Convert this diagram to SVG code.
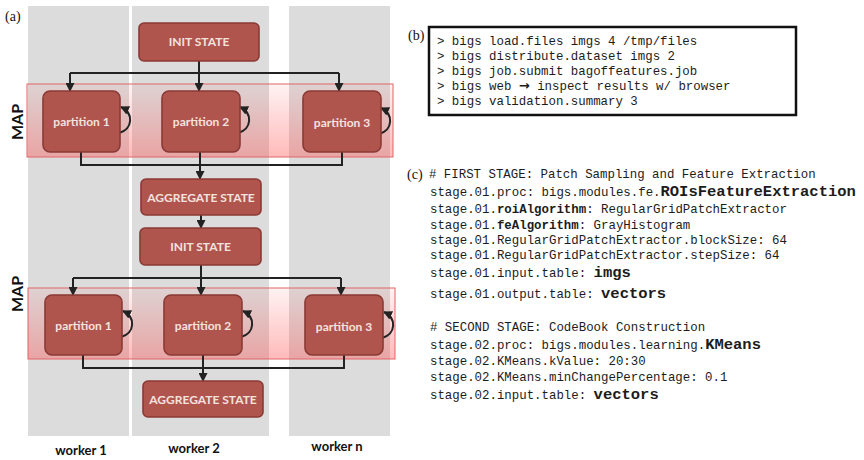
<svg xmlns="http://www.w3.org/2000/svg" width="864" height="460" viewBox="0 0 864 460">
<style>
.col{fill:#dcdcdc}
.band{fill:url(#bandGrad);stroke:#e06464;stroke-width:1}
.box{fill:#b0554e;stroke:#8a3a35;stroke-width:1.6}
.bt{font-family:Lato,"Open Sans",sans-serif;font-weight:bold;font-size:12px;fill:#f4e2df;text-anchor:middle}
.wk{font-family:Lato,"Open Sans",sans-serif;font-weight:bold;font-size:13px;fill:#111;text-anchor:middle}
.map{font-family:Lato,"Open Sans",sans-serif;font-weight:bold;font-size:16px;fill:#111;text-anchor:middle}
.lbl{font-family:"Liberation Serif",serif;font-size:14px;fill:#111}
.code{font-family:"Liberation Mono","DejaVu Sans Mono",monospace;font-size:12.4px;fill:#1c1c1c}
.b{font-weight:bold}
.big{font-weight:bold;font-size:15.5px}
.sym{font-family:"DejaVu Sans",sans-serif;font-weight:bold;font-size:13px}
.con{fill:none;stroke:#222;stroke-width:2}
.arr{marker-end:url(#ah)}
</style>
<defs>
<linearGradient id="bandGrad" x1="0" y1="0" x2="0" y2="1">
<stop offset="0" stop-color="#ff4a4a" stop-opacity="0.07"/>
<stop offset="1" stop-color="#ff4a4a" stop-opacity="0.38"/>
</linearGradient>
<marker id="ah" markerUnits="userSpaceOnUse" markerWidth="9" markerHeight="9" refX="8" refY="4.5" orient="auto">
<path d="M0,0 L9,4.5 L0,9 z" fill="#222"/>
</marker>
</defs>
<rect width="864" height="460" fill="#fff"/>
<g id="panel-a">
<text class="lbl" x="5" y="21">(a)</text>
<g id="workers">
<rect class="col" x="28" y="6" width="101" height="430"/>
<rect class="col" x="132" y="6" width="137" height="430"/>
<rect class="col" x="289" y="6" width="101" height="430"/>
</g>
<g id="map-bands">
<rect class="band" x="27" y="84" width="366" height="73"/>
<rect class="band" x="28" y="288" width="367" height="71"/>
<text class="map" transform="translate(23,122) rotate(-90)">MAP</text>
<text class="map" transform="translate(23,294) rotate(-90)">MAP</text>
</g>
<g id="connectors">
<path class="con" d="M199,61 V73 M70,73 H339"/>
<path class="con arr" d="M70,73 V91"/>
<path class="con arr" d="M199,73 V91"/>
<path class="con arr" d="M339,73 V91"/>
<path class="con" d="M81,152 V165 H342 V152"/>
<path class="con arr" d="M200,152 V179"/>
<path class="con arr" d="M201,215 V228"/>
<path class="con" d="M201,265 V278 M73,278 H341"/>
<path class="con arr" d="M73,278 V295"/>
<path class="con arr" d="M201,278 V295"/>
<path class="con arr" d="M341,278 V295"/>
<path class="con" d="M83,355 V368 H344 V355"/>
<path class="con arr" d="M203,355 V381"/>
<path class="con arr" d="M119,133 C133,129 134,113 121,107"/>
<path class="con arr" d="M238,133 C252,129 253,113 240,107"/>
<path class="con arr" d="M379,134 C393,130 394,114 381,108"/>
<path class="con arr" d="M121,337 C135,333 136,317 123,311"/>
<path class="con arr" d="M241,337 C255,333 256,317 243,311"/>
<path class="con arr" d="M382,338 C396,334 397,318 384,312"/>
</g>
<g id="init1"><rect class="box" x="139" y="23" width="120" height="38" rx="5"/><text class="bt" x="199" y="46">INIT STATE</text></g>
<g id="p1a"><rect class="box" x="43" y="91" width="77" height="61" rx="7"/><text class="bt" x="81.5" y="126">partition 1</text></g>
<g id="p2a"><rect class="box" x="162" y="91" width="78" height="61" rx="7"/><text class="bt" x="201" y="126">partition 2</text></g>
<g id="p3a"><rect class="box" x="303" y="91" width="78" height="61" rx="7"/><text class="bt" x="342" y="127">partition 3</text></g>
<g id="agg1"><rect class="box" x="141" y="179" width="120" height="36" rx="5"/><text class="bt" x="201" y="202">AGGREGATE STATE</text></g>
<g id="init2"><rect class="box" x="140" y="228" width="121" height="37" rx="5"/><text class="bt" x="200.5" y="251">INIT STATE</text></g>
<g id="p1b"><rect class="box" x="45" y="295" width="77" height="60" rx="7"/><text class="bt" x="83.5" y="330">partition 1</text></g>
<g id="p2b"><rect class="box" x="164" y="295" width="78" height="60" rx="7"/><text class="bt" x="203" y="330">partition 2</text></g>
<g id="p3b"><rect class="box" x="305" y="295" width="78" height="60" rx="7"/><text class="bt" x="344" y="331">partition 3</text></g>
<g id="agg2"><rect class="box" x="143" y="381" width="120" height="36" rx="5"/><text class="bt" x="203" y="404">AGGREGATE STATE</text></g>
<g id="worker-labels">
<text class="wk" x="81" y="455">worker 1</text>
<text class="wk" x="194" y="453">worker 2</text>
<text class="wk" x="337" y="451">worker n</text>
</g>
</g>
<g id="panel-b">
<text class="lbl" x="408" y="40">(b)</text>
<rect x="429" y="27" width="367" height="88" fill="#fff" stroke="#111" stroke-width="2.5"/>
<text class="code" x="437" y="45">&gt; bigs load.files imgs 4 /tmp/files</text>
<text class="code" x="437" y="60">&gt; bigs distribute.dataset imgs 2</text>
<text class="code" x="437" y="75">&gt; bigs job.submit bagoffeatures.job</text>
<text class="code" x="437" y="90">&gt; bigs web <tspan class="sym">→</tspan> inspect results w/ browser</text>
<text class="code" x="437" y="105">&gt; bigs validation.summary 3</text>
</g>
<g id="panel-c">
<text class="lbl" x="407" y="179">(c)</text>
<text class="code" x="429" y="178"># FIRST STAGE: Patch Sampling and Feature Extraction</text>
<text class="code" x="430" y="196">stage.01.proc: bigs.modules.fe.<tspan class="big">ROIsFeatureExtraction</tspan></text>
<text class="code" x="430" y="213">stage.01.<tspan class="b">roiAlgorithm</tspan>: RegularGridPatchExtractor</text>
<text class="code" x="430" y="229">stage.01.<tspan class="b">feAlgorithm</tspan>: GrayHistogram</text>
<text class="code" x="430" y="244">stage.01.RegularGridPatchExtractor.blockSize: 64</text>
<text class="code" x="430" y="259">stage.01.RegularGridPatchExtractor.stepSize: 64</text>
<text class="code" x="430" y="277">stage.01.input.table: <tspan class="big">imgs</tspan></text>
<text class="code" x="430" y="298">stage.01.output.table: <tspan class="big">vectors</tspan></text>
<text class="code" x="430" y="331"># SECOND STAGE: CodeBook Construction</text>
<text class="code" x="430" y="349">stage.02.proc: bigs.modules.learning.<tspan class="big">KMeans</tspan></text>
<text class="code" x="430" y="365">stage.02.KMeans.kValue: 20:30</text>
<text class="code" x="430" y="381">stage.02.KMeans.minChangePercentage: 0.1</text>
<text class="code" x="430" y="399">stage.02.input.table: <tspan class="big">vectors</tspan></text>
</g>
</svg>
